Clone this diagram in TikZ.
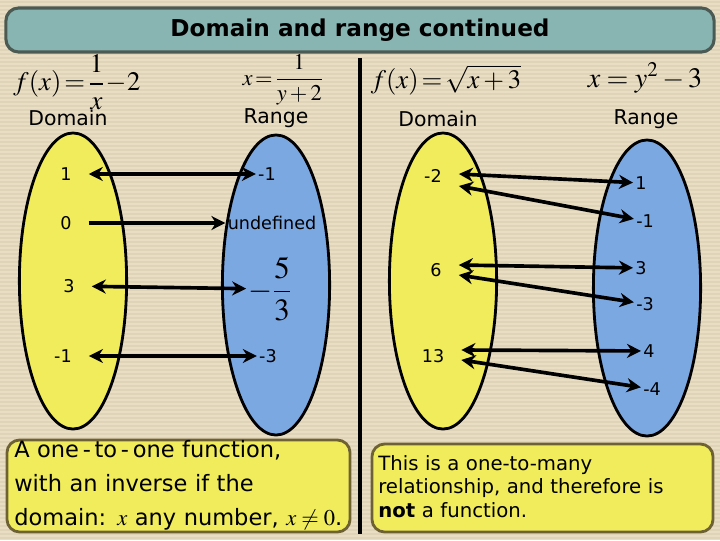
\documentclass[tikz,border=0pt]{standalone}
\usepackage{amsmath}
\usepackage{mathptmx}
\usepackage[no-math]{fontspec}
\setmainfont{DejaVu Sans}
\usetikzlibrary{arrows.meta, positioning, shapes.geometric, calc}
\definecolor{bgtan}{HTML}{E9DEC4}
\definecolor{bgline}{HTML}{E0D4B8}
\definecolor{titleteal}{HTML}{88B5B2}
\definecolor{titleedge}{HTML}{4B5A52}
\definecolor{setyellow}{HTML}{F0EC5C}
\definecolor{setblue}{HTML}{7CA8E2}
\definecolor{boxedge}{HTML}{6E6234}

\begin{document}
\begin{tikzpicture}[x=0.025cm, y=-0.025cm,
  oval/.style={ellipse, draw=black, line width=2pt, fill=#1,
    minimum width=2.68cm, minimum height=7.4cm},
  hdr/.style={font=\fontsize{14.5}{17}\selectfont},
  dom/.style={font=\fontsize{12.5}{14}\selectfont, inner sep=12pt},
  rng/.style={font=\fontsize{12.5}{14}\selectfont, inner sep=1.5pt},
  twoway/.style={line width=2.6pt, {Stealth[length=10pt,width=10pt]}-{Stealth[length=10pt,width=10pt]}},
  oneway/.style={line width=2.6pt, -{Stealth[length=10pt,width=10pt]}},
  note/.style={draw=boxedge, fill=setyellow, line width=2pt, rounded corners=9pt},
]
  % striped paper
  \useasboundingbox (0,0) rectangle (720,540);
  \fill[bgtan] (0,0) rectangle (720,540);
  \foreach \sy in {2,6,...,538}
    \draw[bgline, line width=0.8pt] (0,\sy) -- (720,\sy);

  \node[draw=titleedge, fill=titleteal, line width=2.2pt, rounded corners=9pt,
    minimum width=17.7cm, minimum height=1.1cm,
    font=\fontsize{16.5}{19}\selectfont\bfseries] (title) at (360,30) {Domain and range continued};

  \draw[line width=3pt] (360,58) -- (360,534);

  % formulas and headers
  \node[font=\fontsize{19}{23}\selectfont] (lfn) at (77,82) {$f(x)\!=\!\dfrac{1}{x}\!-\!2$};
  \node[font=\fontsize{16}{19}\selectfont] (linv) at (283,80) {$x\!=\!\dfrac{1}{y+2}$};
  \node[font=\fontsize{19}{23}\selectfont] (rfn) at (446,80) {$f(x)\!=\!\sqrt{x+3}$};
  \node[font=\fontsize{20}{24}\selectfont] (rinv) at (645,78) {$x=y^{2}-3$};
  \node[hdr] (ldomhdr) at (68,118) {Domain};
  \node[hdr] (lrnghdr) at (276,118) {Range};
  \node[hdr] (rdomhdr) at (438,119) {Domain};
  \node[hdr] (rrnghdr) at (646,119) {Range};

  % sets
  \node[oval=setyellow] (ldom) at (73,281) {};
  \node[oval=setblue, minimum height=7.5cm] (lrng) at (276,285) {};
  \node[oval=setyellow] (rdom) at (443,281) {};
  \node[oval=setblue] (rrng) at (647,288) {};

  % one-to-one
  \node[dom] (ld1) at (66,174) {1};
  \node[dom] (ld0) at (66,223) {0};
  \node[dom] (ld3) at (69,286) {3};
  \node[dom] (ldm1) at (63,356) {-1};
  \node[rng] (lr1) at (267,174) {-1};
  \node[rng] (lrund) at (272,223) {undefined};
  \node[rng, font=\fontsize{22}{26}\selectfont] (lrfrac) at (270,289) {$-\dfrac{5}{3}$};
  \node[rng] (lrm3) at (268,356) {-3};
  \draw[twoway] (ld1) -- (lr1);
  \draw[oneway] (ld0) -- (lrund);
  \draw[twoway] (ld3) -- (lrfrac);
  \draw[twoway] (ldm1) -- (lrm3);

  % one-to-many
  \node[dom] (dm2) at (433,176) {-2};
  \node[dom] (d6) at (436,270) {6};
  \node[dom] (d13) at (433,356) {13};
  \node[rng] (r1) at (641,183) {1};
  \node[rng] (rm1) at (645,221) {-1};
  \node[rng] (r3) at (641,268) {3};
  \node[rng] (rm3) at (645,304) {-3};
  \node[rng] (r4) at (649,351) {4};
  \node[rng] (rm4) at (652,389) {-4};
  \draw[twoway] ($(dm2.east)+(0,-2)$) -- (r1);
  \draw[twoway] ($(dm2.east)+(0,10)$) -- (rm1);
  \draw[twoway] ($(d6.east)+(0,-5)$) -- (r3);
  \draw[twoway] ($(d6.east)+(0,5)$) -- (rm3);
  \draw[twoway] ($(d13.east)+(0,-6)$) -- (r4);
  \draw[twoway] ($(d13.east)+(0,4)$) -- (rm4);

  % notes
  \node[note, minimum width=8.575cm, minimum height=2.3cm] (lnote) at (178.5,486) {};
  \node[anchor=base west, inner sep=0pt, text width=8.3cm, align=left,
    font=\fontsize{16}{24.2}\selectfont] (lnotetext) at (14,457)
    {A one\,-\,to\,-\,one function,\\with an inverse if the\\domain: $x$ any number, $x\neq0$.};
  \node[note, minimum width=8.525cm, minimum height=2.2cm] (rnote) at (542.5,488) {};
  \node[anchor=base west, inner sep=0pt, text width=8.3cm, align=left,
    font=\fontsize{14}{17}\selectfont] (rnotetext) at (378,470)
    {This is a one-to-many\\relationship, and therefore is\\\textbf{not} a function.};
\end{tikzpicture}
\end{document}
